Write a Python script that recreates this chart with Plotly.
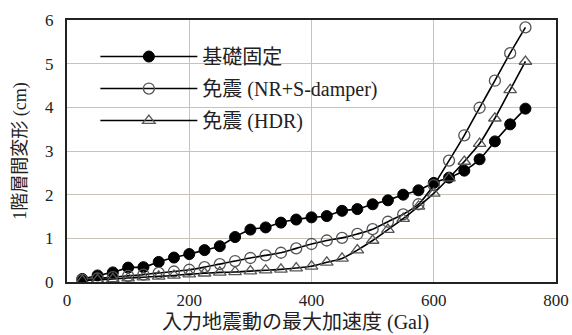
import plotly.graph_objects as go

accel = [25, 50, 75, 100, 125, 150, 175, 200, 225, 250, 275, 300, 325, 350, 375,
         400, 425, 450, 475, 500, 525, 550, 575, 600, 625, 650, 675, 700, 725, 750]

fixed_base = [0.07, 0.15, 0.22, 0.33, 0.34, 0.46, 0.56, 0.64, 0.73, 0.82, 1.03, 1.20, 1.25, 1.36, 1.43,
              1.48, 1.51, 1.63, 1.67, 1.78, 1.87, 2.00, 2.10, 2.27, 2.39, 2.55, 2.81, 3.22, 3.61, 3.97]

iso_nrs = [0.05, 0.08, 0.11, 0.14, 0.17, 0.21, 0.24, 0.28, 0.34, 0.41, 0.48, 0.55, 0.61, 0.67, 0.77,
           0.87, 0.95, 1.01, 1.10, 1.21, 1.38, 1.55, 1.78, 2.22, 2.78, 3.36, 3.99, 4.61, 5.24, 5.83]

iso_hdr = [0.03, 0.05, 0.07, 0.09, 0.11, 0.13, 0.15, 0.18, 0.20, 0.22, 0.23, 0.25, 0.27, 0.29, 0.32,
           0.36, 0.45, 0.54, 0.73, 0.95, 1.20, 1.45, 1.73, 2.03, 2.38, 2.76, 3.17, 3.75, 4.40, 5.05]

names = ["基礎固定", "免震 (NR+S-damper)", "免震 (HDR)"]
x_title = "入力地震動の最大加速度 (Gal)"
y_title = "1階層間変形 (cm)"
x_ticks = [0, 200, 400, 600, 800]
y_ticks = [0, 1, 2, 3, 4, 5, 6]

FONT = "Liberation Serif, Times New Roman, Noto Sans CJK JP, serif"

fig = go.Figure()
fig.add_trace(go.Scatter(
    x=accel, y=fixed_base, name=names[0], mode="lines+markers", legendgroup="a",
    line=dict(color="black", width=1.6, shape="spline", smoothing=0.6),
    marker=dict(symbol="circle", size=11, color="black", line=dict(color="black", width=1))))
fig.add_trace(go.Scatter(
    x=accel, y=iso_nrs, name=names[1], mode="lines+markers", legendgroup="b",
    line=dict(color="black", width=1.6, shape="spline", smoothing=0.8),
    marker=dict(symbol="circle-open", size=11, color="#555555", line=dict(width=1.3))))
fig.add_trace(go.Scatter(
    x=accel, y=iso_hdr, name=names[2], mode="lines+markers", legendgroup="c",
    line=dict(color="black", width=1.6, shape="spline", smoothing=0.8),
    marker=dict(symbol="triangle-up-open", size=11, color="#555555", line=dict(width=1.3))))

fig.update_layout(
    width=572, height=335,
    margin=dict(l=67, r=16, t=20, b=53),
    paper_bgcolor="white", plot_bgcolor="white",
    font=dict(family=FONT, size=16, color="#222222"),
    showlegend=True,
    legend=dict(x=0.058, y=0.935, xanchor="left", yanchor="top",
                bgcolor="rgba(255,255,255,0)", borderwidth=0,
                itemwidth=97, tracegroupgap=3, traceorder="grouped",
                font=dict(family=FONT, size=20, color="#222222")),
    xaxis=dict(range=[0, 800], tickvals=x_ticks, ticktext=[str(v) for v in x_ticks],
               showgrid=True, gridcolor="#c9c2bb", gridwidth=1,
               showline=True, linecolor="#222222", linewidth=2, mirror=True,
               ticks="", zeroline=False, ticklabelstandoff=2, automargin=False,
               tickfont=dict(family=FONT, size=17)),
    yaxis=dict(range=[0, 6], tickvals=y_ticks, ticktext=[str(v) for v in y_ticks],
               showgrid=True, gridcolor="#c9c2bb", gridwidth=1,
               showline=True, linecolor="#222222", linewidth=2, mirror=True,
               ticks="", zeroline=False, ticklabelstandoff=8, automargin=False,
               title=dict(text=y_title, standoff=14,
                          font=dict(family=FONT, size=18)),
               tickfont=dict(family=FONT, size=17)),
    annotations=[dict(text=x_title, xref="paper", yref="paper", x=0.468, y=-0.153,
                      xanchor="center", yanchor="middle", showarrow=False,
                      font=dict(family=FONT, size=20, color="#222222"))],
)

fig.write_html("out.html")
